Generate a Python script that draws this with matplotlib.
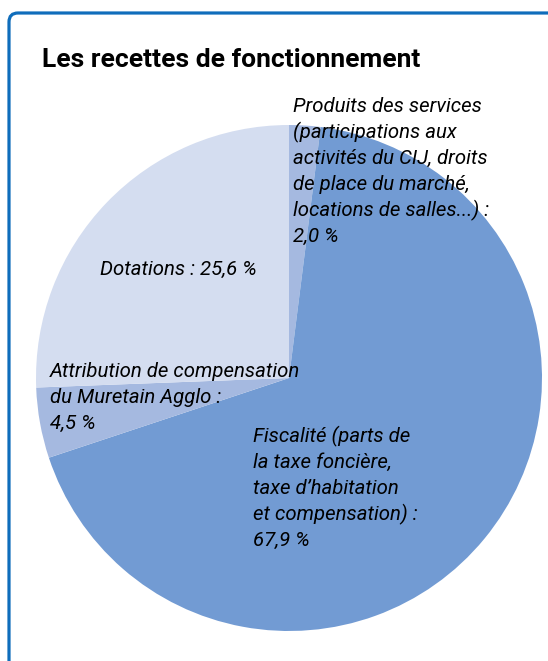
import matplotlib
matplotlib.use("Agg")
from matplotlib import pyplot as plt
from matplotlib.patches import FancyBboxPatch
from matplotlib.transforms import IdentityTransform

# données
labels = [
    ["Produits des services", "(participations aux", "activités du CIJ, droits",
     "de place du marché,", "locations de salles...) :", "2,0 %"],
    ["Fiscalité (parts de", "la taxe foncière,", "taxe d\u2019habitation",
     "et compensation) :", "67,9 %"],
    ["Attribution de compensation", "du Muretain Agglo :", "4,5 %"],
    ["Dotations : 25,6 %"],
]
values = [2.0, 67.9, 4.5, 25.6]
colors = ["#a5b9e0", "#729bd3", "#a5b9e0", "#d4ddf0"]
# position du texte (pixels : gauche, ligne de base de la 1re ligne)
label_pos = [(293, 112), (253, 442), (50, 377), (100, 275)]

W, H = 548, 661
fig = plt.figure(figsize=(W / 100, H / 100), dpi=100)
fonts = ["Roboto", "DejaVu Sans"]

# cadre bleu arrondi
frame = FancyBboxPatch((9, -40), 600, H - 13 + 40, boxstyle="round,pad=0,rounding_size=9",
                       transform=IdentityTransform(), facecolor="none",
                       edgecolor="#0f6dbb", linewidth=2.3)
fig.patches.append(frame)

fig.text(42 / W, 1 - 67 / H, "Les recettes de fonctionnement", family=fonts,
         fontsize=19, fontweight="bold", ha="left", va="baseline")

# camembert
cx, cy, r = 289, 378, 253
ax = fig.add_axes([(cx - r) / W, (H - cy - r) / H, 2 * r / W, 2 * r / H])
ax.pie(values, colors=colors, startangle=90, counterclock=False, radius=1,
       wedgeprops=dict(linewidth=0))
ax.set_xlim(-1, 1)
ax.set_ylim(-1, 1)
ax.axis("off")

for lines, (x, y) in zip(labels, label_pos):
    for i, line in enumerate(lines):
        fig.text(x / W, 1 - (y + 26 * i) / H, line, family=fonts, fontsize=14.7,
                 style="italic", ha="left", va="baseline")

fig.savefig("out.png", dpi=100)
